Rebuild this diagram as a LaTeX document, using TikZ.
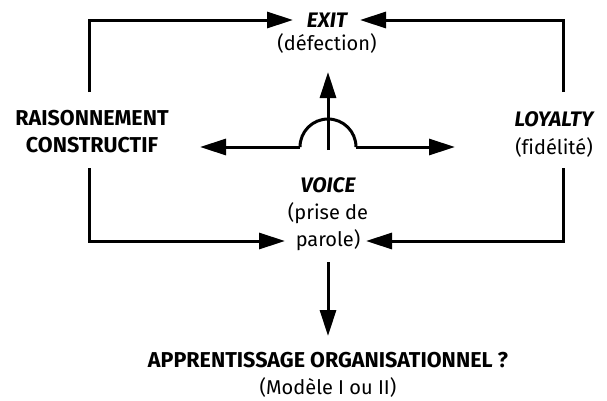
\documentclass[tikz,border=0pt]{standalone}
\usepackage{fontspec}
\setmainfont{Fira Sans}[Ligatures=CommonOff]
\usetikzlibrary{arrows.meta}
\begin{document}
\begin{tikzpicture}[x=1pt,y=-1pt,
  line/.style={line width=3pt},
  arr/.style={line, -{Triangle[length=26pt,width=16pt]}},
  bold/.style={inner sep=0pt, font=\fontsize{21.5}{24}\selectfont\bfseries},
  boldit/.style={inner sep=0pt, font=\fontsize{21}{24}\selectfont\bfseries\itshape},
  reg/.style={inner sep=0pt, font=\fontsize{20}{24}\selectfont}]
\useasboundingbox (0,0) rectangle (607,400);
% labels
\node[boldit] (exit) at (327,20) {EXIT};
\node[reg] (exitsub) at (327,43) {(défection)};
\node[bold] (rais1) at (92,118) {RAISONNEMENT};
\node[bold] (rais2) at (92,145) {CONSTRUCTIF};
\node[boldit] (loy) at (554,119) {LOYALTY};
\node[reg] (loysub) at (554,147) {(fidélité)};
\node[boldit] (voice) at (328,185) {VOICE};
\node[reg] (voice1) at (328,213) {(prise de};
\node[reg] (voice2) at (328,240) {parole)};
\node[bold] (app) at (328,360) {APPRENTISSAGE ORGANISATIONNEL ?};
\node[reg] (appsub) at (328,387) {(Modèle I ou II)};
% anchor points
\coordinate (lt) at (89,92);
\coordinate (lb) at (89,168);
\coordinate (rt) at (563,92);
\coordinate (rb) at (563,168);
\coordinate (exitL) at (293,20);
\coordinate (exitR) at (360,20);
\coordinate (voiceL) at (285,241);
\coordinate (voiceR) at (366,241);
\coordinate (arcL) at (300,147);
\coordinate (arcR) at (356,147);
\coordinate (hl) at (200,147);
\coordinate (hr) at (455,147);
\coordinate (vb) at (328,150);
\coordinate (vt) at (328,72);
\coordinate (db) at (328,262);
\coordinate (dt) at (328,336);
% connectors
\draw[arr] (lt) |- (exitL);
\draw[arr] (rt) |- (exitR);
\draw[arr] (lb) |- (voiceL);
\draw[arr] (rb) |- (voiceR);
\draw[arr] (vb) -- (vt);
\draw[arr] (arcL) -- (hl);
\draw[arr] (arcR) -- (hr);
\draw[line] (arcL) arc[start angle=180, end angle=360, radius=28];
\draw[arr] (db) -- (dt);
\end{tikzpicture}
\end{document}
